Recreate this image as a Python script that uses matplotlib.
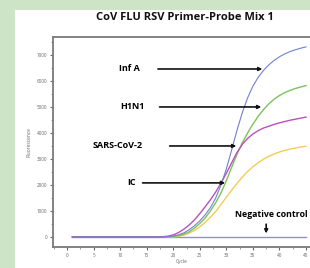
import numpy as np
import matplotlib
matplotlib.use('Agg')
import matplotlib.pyplot as plt
from matplotlib.patches import Rectangle

plt.rcParams['font.family'] = ['Open Sans', 'DejaVu Sans']

cycles = list(range(1, 46))

# fluorescence, cycles 1..45
inf_a = [0]*18 + [15, 40, 80, 160, 280, 430, 620, 850, 1130, 1500, 2000, 2620,
                  3350, 4100, 4780, 5350, 5800, 6140, 6410, 6620, 6790, 6930,
                  7040, 7130, 7200, 7260, 7310]
h1n1 = [0]*19 + [15, 50, 110, 200, 340, 520, 730, 1000, 1320, 1700, 2170, 2680,
                 3180, 3620, 4000, 4340, 4640, 4900, 5120, 5300, 5440, 5550,
                 5640, 5710, 5770, 5820]
sars = [0]*17 + [10, 30, 80, 170, 300, 460, 660, 900, 1160, 1430, 1730, 2080,
                 2450, 2850, 3250, 3560, 3790, 3960, 4090, 4190, 4260, 4330,
                 4390, 4440, 4490, 4530, 4570, 4610]
ic = [0]*20 + [20, 70, 150, 250, 390, 560, 760, 980, 1250, 1530, 1800, 2060,
               2300, 2520, 2700, 2860, 2990, 3100, 3190, 3270, 3330, 3380,
               3420, 3460, 3490]
neg = [0]*45

x_ticks = [0, 5, 10, 15, 20, 25, 30, 35, 40, 45]
y_ticks = [0, 1000, 2000, 3000, 4000, 5000, 6000, 7000]

fig = plt.figure(figsize=(3.1, 2.68), dpi=100)
fig.patch.set_facecolor('#cde5c6')
fig.patches.append(Rectangle((15/310, 0), 1, 1 - 10/268, transform=fig.transFigure,
                             facecolor='white', edgecolor='none', zorder=-5))

ax = fig.add_axes([53/310, 21/268, 257/310, 210/268])
ax.set_facecolor('none')

ax.plot(cycles, neg, color='#8f8fd8', lw=1.0)
ax.plot(cycles, ic, color='#f2cd55', lw=1.0)
ax.plot(cycles, h1n1, color='#7cc35a', lw=1.0)
ax.plot(cycles, sars, color='#bb4fbe', lw=1.0)
ax.plot(cycles, inf_a, color='#7080d0', lw=0.8)

ax.set_xlim(-2.64, 45.75)
ax.set_ylim(-385, 7690)
ax.set_xticks(x_ticks)
ax.set_yticks(y_ticks)
ax.set_xticks(np.arange(-2.5, 46, 2.5), minor=True)
ax.set_yticks(np.arange(0, 7600, 500), minor=True)
ax.tick_params(labelsize=3.3, colors='#666666', length=2.5, width=0.8, pad=1.5)
ax.tick_params(which='minor', length=1.5, width=0.6, colors='#888888')
for s in ['left', 'bottom', 'top']:
    ax.spines[s].set_color('#7a7a7a')
    ax.spines[s].set_linewidth(1.3)
ax.spines['right'].set_visible(False)

ax.set_xlabel('Cycle', fontsize=3.5, color='#666666', labelpad=1)
ax.set_ylabel('Fluorescence', fontsize=3.5, color='#666666', labelpad=4)

fig.text(185/310, 1 - 18/268, 'CoV FLU RSV Primer-Probe Mix 1', ha='center', va='center',
         fontsize=8, fontweight='bold', color='#111111')

arrow = dict(arrowstyle='-|>', color='#111111', lw=1.2, mutation_scale=5)
labels = [('Inf A', 11.7, 6460, 16.6, 37.3),
          ('H1N1', 12.4, 5000, 16.9, 37.1),
          ('SARS-CoV-2', 9.6, 3500, 18.8, 32.4),
          ('IC', 12.2, 2080, 13.7, 30.3)]
for txt, tx, ty, x0, x1 in labels:
    ax.text(tx, ty, txt, ha='center', va='center', fontsize=6.5, fontweight='bold',
            color='#000000')
    ax.annotate('', xy=(x1, ty), xytext=(x0, ty), arrowprops=arrow)

ax.text(38.4, 850, 'Negative control', ha='center', va='center', fontsize=6.3,
        fontweight='bold', color='#000000')
ax.annotate('', xy=(37.5, 30), xytext=(37.5, 600), arrowprops=arrow)

fig.savefig('out.png', dpi=100, facecolor=fig.get_facecolor())
